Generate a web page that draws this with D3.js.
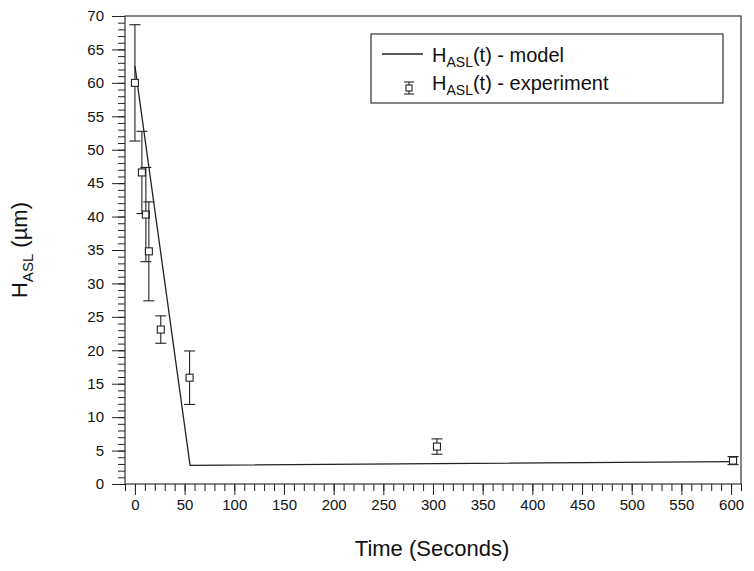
<!DOCTYPE html>
<html>
<head>
<meta charset="utf-8">
<script src="https://cdn.jsdelivr.net/npm/d3@7"></script>
<style>
  body { margin: 0; background: #fff; }
  text { font-family: "Liberation Sans", Arial, Helvetica, sans-serif; fill: #111; }
</style>
</head>
<body>
<div id="main"></div>
<script>
// experiment: time (s), H_ASL (um), error (+/-)
var expTime = [0, 7, 11, 14, 26, 55, 304, 602];
var expH = [60.0, 46.6, 40.3, 34.8, 23.1, 15.9, 5.6, 3.5];
var expErr = [8.7, 6.15, 7.05, 7.4, 2.05, 4.0, 1.15, 0.6];

// model curve
var modelTime = [0, 55.5, 602];
var modelH = [62.5, 2.8, 3.35];

var xTicks = d3.range(0, 601, 50);
var yTicks = d3.range(0, 71, 5);

var legendLabels = ["model", "experiment"];

var W = 754, H = 571;
var margin = { top: 16, right: 13, bottom: 87, left: 125 },
  width = W - margin.left - margin.right,
  height = H - margin.top - margin.bottom;

var svg = d3.select("#main").append("svg")
  .attr("width", W)
  .attr("height", H);

var g = svg.append("g")
  .attr("transform", "translate(" + margin.left + "," + margin.top + ")");

var x = d3.scaleLinear().domain([-10, 610]).range([0, width]);
var y = d3.scaleLinear().domain([0, 70]).range([height, 0]);

// minor ticks first, then the major ones on top
g.append("g")
  .attr("transform", "translate(0," + height + ")")
  .call(d3.axisBottom(x).tickValues(d3.range(-10, 611, 10)).tickSize(7).tickFormat(""))
  .call(function (a) { a.select(".domain").remove(); });

g.append("g")
  .call(d3.axisLeft(y).tickValues(d3.range(0, 71, 1)).tickSize(7).tickFormat(""))
  .call(function (a) { a.select(".domain").remove(); });

var xAxis = g.append("g")
  .attr("transform", "translate(0," + height + ")")
  .call(d3.axisBottom(x).tickValues(xTicks).tickSize(11).tickPadding(4).tickSizeOuter(0));
xAxis.select(".domain").remove();
xAxis.selectAll("text").style("font-size", "15px");

var yAxis = g.append("g")
  .call(d3.axisLeft(y).tickValues(yTicks).tickSize(13).tickPadding(8).tickSizeOuter(0));
yAxis.select(".domain").remove();
yAxis.selectAll("text").style("font-size", "15px");

g.selectAll(".tick line").attr("stroke", "#222");

// frame
g.append("rect")
  .attr("x", 0).attr("y", 0)
  .attr("width", width).attr("height", height)
  .attr("fill", "none")
  .attr("stroke", "#222")
  .attr("stroke-width", 1.1);

// model line
var line = d3.line()
  .x(function (d) { return x(d[0]); })
  .y(function (d) { return y(d[1]); });

g.append("path")
  .datum(d3.zip(modelTime, modelH))
  .attr("d", line)
  .attr("fill", "none")
  .attr("stroke", "#222")
  .attr("stroke-width", 1.3);

// error bars
var cap = 5.5, sq = 7;
var pts = g.selectAll(".pt")
  .data(d3.range(expTime.length))
  .enter().append("g")
  .attr("class", "pt")
  .attr("stroke", "#222")
  .attr("stroke-width", 1.1)
  .attr("fill", "none");

pts.append("line")
  .attr("x1", function (i) { return x(expTime[i]); })
  .attr("x2", function (i) { return x(expTime[i]); })
  .attr("y1", function (i) { return y(expH[i] + expErr[i]); })
  .attr("y2", function (i) { return y(expH[i] - expErr[i]); });

[1, -1].forEach(function (s) {
  pts.append("line")
    .attr("x1", function (i) { return x(expTime[i]) - cap; })
    .attr("x2", function (i) { return x(expTime[i]) + cap; })
    .attr("y1", function (i) { return y(expH[i] + s * expErr[i]); })
    .attr("y2", function (i) { return y(expH[i] + s * expErr[i]); });
});

pts.append("rect")
  .attr("x", function (i) { return x(expTime[i]) - sq / 2; })
  .attr("y", function (i) { return y(expH[i]) - sq / 2; })
  .attr("width", sq)
  .attr("height", sq)
  .attr("fill", "#fff");

// axis titles
svg.append("text")
  .attr("x", 432)
  .attr("y", 556)
  .attr("text-anchor", "middle")
  .style("font-size", "22px")
  .text("Time (Seconds)");

var yt = svg.append("text")
  .attr("transform", "translate(27,250) rotate(-90)")
  .attr("text-anchor", "middle")
  .style("font-size", "22px");
yt.append("tspan").text("H");
yt.append("tspan").attr("dy", 6).style("font-size", "15px").text("ASL");
yt.append("tspan").attr("dy", -6).text(" (\u00b5m)");

// legend
var lg = svg.append("g");
lg.append("rect")
  .attr("x", 371).attr("y", 34)
  .attr("width", 352).attr("height", 69)
  .attr("fill", "#fff")
  .attr("stroke", "#222")
  .attr("stroke-width", 1.1);

lg.append("line")
  .attr("x1", 382).attr("x2", 423)
  .attr("y1", 54).attr("y2", 54)
  .attr("stroke", "#222")
  .attr("stroke-width", 1.3);

var sym = lg.append("g")
  .attr("stroke", "#222")
  .attr("stroke-width", 1.1)
  .attr("fill", "#fff");
sym.append("line").attr("x1", 409).attr("x2", 409).attr("y1", 82).attr("y2", 94);
sym.append("line").attr("x1", 404).attr("x2", 414).attr("y1", 82).attr("y2", 82);
sym.append("line").attr("x1", 404).attr("x2", 414).attr("y1", 94).attr("y2", 94);
sym.append("rect").attr("x", 406).attr("y", 85).attr("width", 6).attr("height", 6);

legendLabels.forEach(function (lab, i) {
  var t = lg.append("text")
    .attr("x", 432)
    .attr("y", 62 + i * 28)
    .style("font-size", "20px");
  t.append("tspan").text("H");
  t.append("tspan").attr("dy", 5).style("font-size", "14px").text("ASL");
  t.append("tspan").attr("dy", -5).text("(t) - " + lab);
});
</script>
</body>
</html>
